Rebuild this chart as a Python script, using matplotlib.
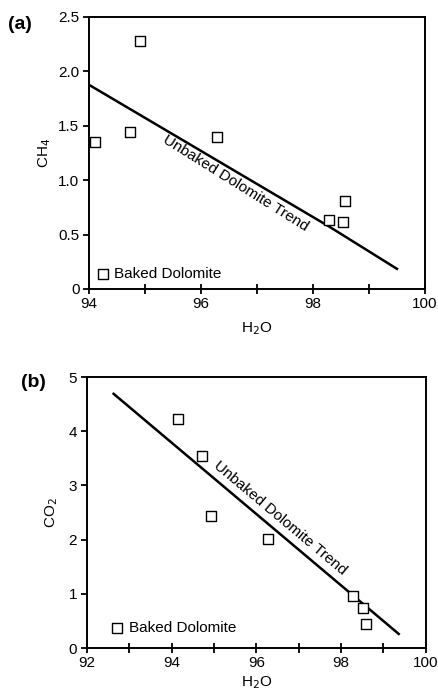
import matplotlib.pyplot as plt
from matplotlib.ticker import MultipleLocator

# (a) CH4 vs H2O, baked dolomite samples
h2o_a = [94.10, 94.73, 94.91, 96.29, 98.28, 98.54, 98.57]
ch4_a = [1.35, 1.44, 2.28, 1.40, 0.63, 0.62, 0.81]
trend_a_x = [94.02, 98.3, 99.50]
trend_a_y = [1.87, 0.57, 0.185]

# (b) CO2 vs H2O
h2o_b = [94.14, 94.71, 94.93, 96.27, 98.29, 98.52, 98.58]
co2_b = [4.22, 3.55, 2.43, 2.02, 0.96, 0.74, 0.45]
trend_b_x = [92.63, 99.36]
trend_b_y = [4.69, 0.26]

plt.rcParams['font.family'] = ['Liberation Sans', 'DejaVu Sans']

fig = plt.figure(figsize=(4.39, 6.91), dpi=100)
ax1 = fig.add_axes([0.203, 0.5818, 0.765, 0.3936])
ax2 = fig.add_axes([0.198, 0.0622, 0.772, 0.3922])


def style(ax, xlim, ylim, yticks, ylabels):
    ax.set_xlim(*xlim)
    ax.set_ylim(*ylim)
    ax.xaxis.set_major_locator(MultipleLocator(2))
    ax.xaxis.set_minor_locator(MultipleLocator(1))
    ax.set_yticks(yticks)
    ax.set_yticklabels(ylabels)
    ax.tick_params(axis='x', which='both', direction='inout', length=7,
                   width=1.3, labelsize=11, pad=2)
    ax.tick_params(axis='y', direction='out', length=4, width=1.3,
                   labelsize=11, pad=3)
    for s in ax.spines.values():
        s.set_linewidth(1.4)


style(ax1, (94, 100), (0, 2.5), [0, 0.5, 1.0, 1.5, 2.0, 2.5],
      ['0', '0.5', '1.0', '1.5', '2.0', '2.5'])
style(ax2, (92, 100), (0, 5), [0, 1, 2, 3, 4, 5],
      ['0', '1', '2', '3', '4', '5'])

mk = dict(marker='s', s=55, facecolors='white', edgecolors='black',
          linewidths=1.0, zorder=3)

ax1.plot(trend_a_x, trend_a_y, color='black', lw=1.8)
ax1.scatter(h2o_a, ch4_a, **mk)
ax1.text(96.62, 0.97, 'Unbaked Dolomite Trend', rotation=-32,
         ha='center', va='center', fontsize=11)
ax1.scatter([94.24], [0.14], **mk)
ax1.text(94.45, 0.14, 'Baked Dolomite', ha='left', va='center', fontsize=11)
ax1.set_xlabel('H$_2$O', fontsize=11, labelpad=7)
ax1.set_ylabel('CH$_4$', fontsize=11, labelpad=4)
fig.text(0.018, 0.958, '(a)', fontsize=14, fontweight='bold', ha='left')

ax2.plot(trend_b_x, trend_b_y, color='black', lw=1.8)
ax2.scatter(h2o_b, co2_b, **mk)
ax2.text(96.55, 2.4, 'Unbaked Dolomite Trend', rotation=-40,
         ha='center', va='center', fontsize=11)
ax2.scatter([92.70], [0.375], **mk)
ax2.text(93.0, 0.375, 'Baked Dolomite', ha='left', va='center', fontsize=11)
ax2.set_xlabel('H$_2$O', fontsize=11, labelpad=3)
ax2.set_ylabel('CO$_2$', fontsize=11, labelpad=6)
fig.text(0.048, 0.44, '(b)', fontsize=14, fontweight='bold', ha='left')

fig.savefig('out.png', dpi=100)
